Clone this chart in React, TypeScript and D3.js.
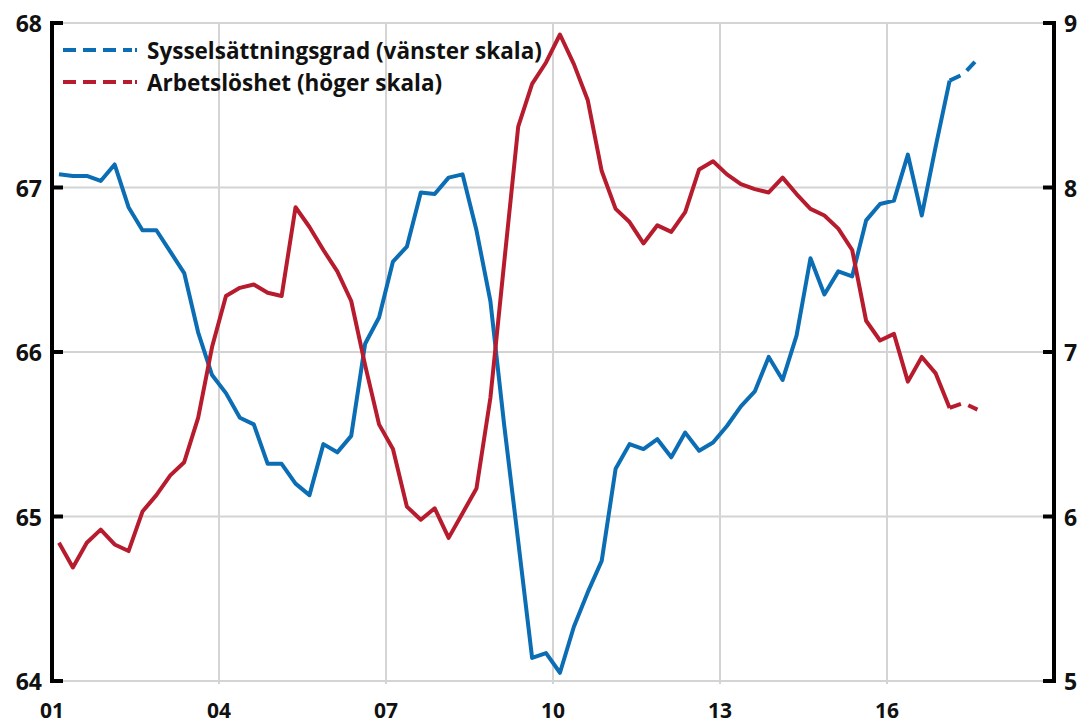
import React from "react";
import * as d3 from "d3";

// Quarterly observations, 2001Q1 .. 2017Q3 (last two are forecasts)
const quarters: string[] = d3.range(67).map((i) => `${2001 + Math.floor(i / 4)}Q${(i % 4) + 1}`);
const forecastStart = "2017Q1";

// Sysselsättningsgrad (vänster skala)
const employment: number[] = [
  67.08, 67.07, 67.07, 67.04, 67.14, 66.88, 66.74, 66.74, 66.61, 66.48,
  66.12, 65.86, 65.75, 65.6, 65.56, 65.32, 65.32, 65.2, 65.13, 65.44,
  65.39, 65.49, 66.05, 66.21, 66.55, 66.64, 66.97, 66.96, 67.06, 67.08,
  66.74, 66.31, 65.55, 64.85, 64.14, 64.17, 64.05, 64.33, 64.54, 64.73,
  65.29, 65.44, 65.41, 65.47, 65.36, 65.51, 65.4, 65.45, 65.55, 65.67,
  65.76, 65.97, 65.83, 66.1, 66.57, 66.35, 66.49, 66.46, 66.8, 66.9,
  66.92, 67.2, 66.83, 67.25, 67.65, 67.69, 67.78,
];

// Arbetslöshet (höger skala)
const unemployment: number[] = [
  5.84, 5.69, 5.84, 5.92, 5.83, 5.79, 6.03, 6.13, 6.25, 6.33,
  6.6, 7.03, 7.34, 7.39, 7.41, 7.36, 7.34, 7.88, 7.76, 7.62,
  7.49, 7.31, 6.92, 6.56, 6.41, 6.06, 5.98, 6.05, 5.87, 6.02,
  6.17, 6.72, 7.55, 8.37, 8.63, 8.76, 8.93, 8.75, 8.53, 8.1,
  7.87, 7.79, 7.66, 7.77, 7.73, 7.85, 8.11, 8.16, 8.08, 8.02,
  7.99, 7.97, 8.06, 7.96, 7.87, 7.83, 7.75, 7.62, 7.19, 7.07,
  7.11, 6.82, 6.97, 6.87, 6.66, 6.69, 6.65,
];

const leftTicks = [64, 65, 66, 67, 68];
const rightTicks = [5, 6, 7, 8, 9];
const xTickYears = [2001, 2004, 2007, 2010, 2013, 2016];
const xTickLabels = ["01", "04", "07", "10", "13", "16"];
const legendLabels = ["Sysselsättningsgrad (vänster skala)", "Arbetslöshet (höger skala)"];

const BLUE = "#0b6db3";
const RED = "#b71c2e";
const GRID = "#d4d4d4";
const FONT = "'Open Sans', 'Liberation Sans', sans-serif";

function qToYear(q: string): number {
  const y = +q.slice(0, 4);
  const n = +q.slice(5);
  return y + (n - 0.5) / 4;
}

export default function App() {
  const W = 1084;
  const H = 727;
  const x0 = 52;
  const x1 = 1054;
  const yTop = 23;
  const yBot = 681;

  const x = d3.scaleLinear().domain([2001, 2019]).range([x0, x1]);
  const yL = d3.scaleLinear().domain([64, 68]).range([yBot, yTop]);
  const yR = d3.scaleLinear().domain([5, 9]).range([yBot, yTop]);

  const fi = quarters.indexOf(forecastStart);
  const idx = d3.range(quarters.length);
  const solidIdx = idx.filter((i) => i <= fi);
  const dashIdx = idx.filter((i) => i >= fi);

  const lineL = d3
    .line<number>()
    .x((i) => x(qToYear(quarters[i])))
    .y((i) => yL(employment[i]));
  const lineR = d3
    .line<number>()
    .x((i) => x(qToYear(quarters[i])))
    .y((i) => yR(unemployment[i]));

  const vGrid = [2004, 2007, 2010, 2013, 2016];

  const legendY = [50, 82];
  const legendColors = [BLUE, RED];

  return (
    <svg
      width={W}
      height={H}
      style={{ position: "absolute", left: 0, top: 0, background: "#fff", display: "block" }}
    >
      <rect x={0} y={0} width={W} height={H} fill="#fff" />
      {/* gridlines */}
      {leftTicks.map((t) => (
        <line key={"h" + t} x1={x0} x2={x1} y1={yL(t)} y2={yL(t)} stroke={GRID} strokeWidth={2} />
      ))}
      {vGrid.map((yr) => (
        <line key={"v" + yr} x1={x(yr)} x2={x(yr)} y1={yTop} y2={yBot + 3} stroke={GRID} strokeWidth={2} />
      ))}

      {/* data lines */}
      <path d={lineL(solidIdx) || ""} fill="none" stroke={BLUE} strokeWidth={4} strokeLinejoin="round" />
      <path d={lineR(solidIdx) || ""} fill="none" stroke={RED} strokeWidth={4} strokeLinejoin="round" />
      <path d={lineL(dashIdx) || ""} fill="none" stroke={BLUE} strokeWidth={4} strokeDasharray="12,8" />
      <path d={lineR(dashIdx) || ""} fill="none" stroke={RED} strokeWidth={4} strokeDasharray="12,8" />

      {/* left axis */}
      <line x1={x0} x2={x0} y1={yTop - 2} y2={yBot + 2} stroke="#000" strokeWidth={4} />
      {leftTicks.map((t) => (
        <g key={"lt" + t}>
          <line x1={x0} x2={x0 + 11} y1={yL(t)} y2={yL(t)} stroke="#000" strokeWidth={4} />
          <text
            x={42}
            y={yL(t)}
            textAnchor="end"
            dominantBaseline="central"
            fontFamily={FONT}
            fontWeight={700}
            fontSize={23}
            fill="#111"
          >
            {t}
          </text>
        </g>
      ))}

      {/* right axis */}
      <line x1={x1} x2={x1} y1={yTop - 2} y2={yBot + 2} stroke="#000" strokeWidth={4} />
      {rightTicks.map((t) => (
        <g key={"rt" + t}>
          <line x1={x1 - 11} x2={x1} y1={yR(t)} y2={yR(t)} stroke="#000" strokeWidth={4} />
          <text
            x={1064}
            y={yR(t)}
            textAnchor="start"
            dominantBaseline="central"
            fontFamily={FONT}
            fontWeight={700}
            fontSize={23}
            fill="#111"
          >
            {t}
          </text>
        </g>
      ))}

      {/* x labels */}
      {xTickYears.map((yr, i) => (
        <text
          key={"xt" + yr}
          x={x(yr)}
          y={710}
          textAnchor="middle"
          dominantBaseline="central"
          fontFamily={FONT}
          fontWeight={700}
          fontSize={21}
          fill="#111"
        >
          {xTickLabels[i]}
        </text>
      ))}

      {/* legend */}
      {legendLabels.map((lab, i) => (
        <g key={"lg" + i}>
          <line
            x1={63}
            x2={137}
            y1={legendY[i]}
            y2={legendY[i]}
            stroke={legendColors[i]}
            strokeWidth={4}
            strokeDasharray="13,7,13,7,13,7,9,3,2,20"
          />
          <text
            x={147}
            y={legendY[i]}
            dominantBaseline="central"
            fontFamily={FONT}
            fontWeight={700}
            fontSize={22.5}
            fill="#111"
          >
            {lab}
          </text>
        </g>
      ))}
    </svg>
  );
}
